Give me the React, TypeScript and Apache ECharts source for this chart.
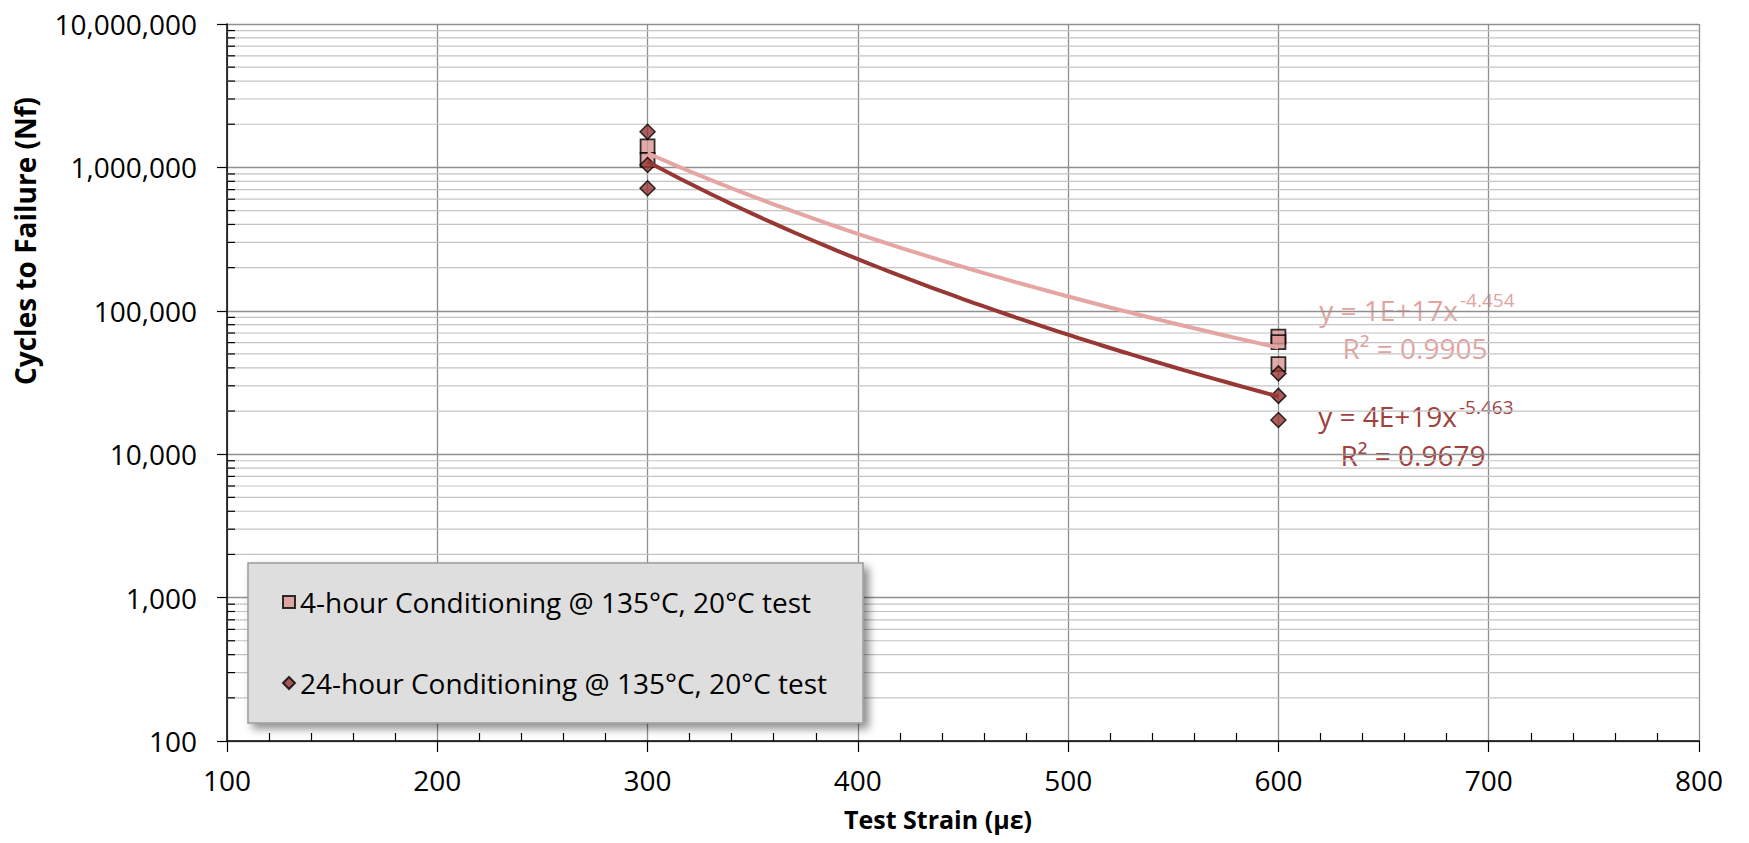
import React, { useEffect, useRef } from "react";
import * as echarts from "echarts";

// ---- data ----
const fourHourName = "4-hour Conditioning @ 135°C, 20°C test";
const twentyFourName = "24-hour Conditioning @ 135°C, 20°C test";

const fourHourStrain = [300, 300, 600, 600, 600];
const fourHourCycles = [1400000, 1130000, 66000, 60500, 42500];

const twentyFourStrain = [300, 300, 300, 600, 600, 600];
const twentyFourCycles = [1770000, 1040000, 715000, 36600, 25500, 17300];

const xTicks = [100, 200, 300, 400, 500, 600, 700, 800];
const yDecades = [100, 1000, 10000, 100000, 1000000, 10000000];
const yMinorMultipliers = [2, 3, 4, 5, 6, 7, 8, 9];

const fourHourEq = { main: "y = 1E+17x", exp: "-4.454", r2: "R² = 0.9905" };
const twentyFourEq = { main: "y = 4E+19x", exp: "-5.463", r2: "R² = 0.9679" };

// ---- helpers ----
function powerFit(xs: number[], ys: number[]) {
  const lx = xs.map(Math.log);
  const ly = ys.map(Math.log);
  const n = xs.length;
  const mx = lx.reduce((a, b) => a + b, 0) / n;
  const my = ly.reduce((a, b) => a + b, 0) / n;
  let sxy = 0, sxx = 0;
  for (let i = 0; i < n; i++) {
    sxy += (lx[i] - mx) * (ly[i] - my);
    sxx += (lx[i] - mx) * (lx[i] - mx);
  }
  const b = sxy / sxx;
  const a = Math.exp(my - b * mx);
  return { a, b };
}

function trendPoints(xs: number[], ys: number[]) {
  const { a, b } = powerFit(xs, ys);
  const lo = Math.min(...xs);
  const hi = Math.max(...xs);
  const pts: number[][] = [];
  const steps = 60;
  for (let i = 0; i <= steps; i++) {
    const x = lo + ((hi - lo) * i) / steps;
    pts.push([x, a * Math.pow(x, b)]);
  }
  return pts;
}

const FONT = '"Open Sans", "Liberation Sans", sans-serif';
const PINK_FILL = "#D99694";
const PINK_LINE = "#E4A5A3";
const PINK_TEXT = "#E2A3A1";
const DARK_FILL = "#953735";
const DARK_LINE = "#973835";
const DARK_TEXT = "#A0413E";

function txt(x: number, y: number, text: string, size: number, fill: string, align: string, bold = false) {
  return {
    type: "text",
    x,
    y,
    style: {
      text,
      font: `${bold ? "bold " : ""}${size}px ${FONT}`,
      fill,
      textAlign: align,
      align,
      textVerticalAlign: "middle",
      verticalAlign: "middle",
    },
  };
}

export default function App() {
  const ref = useRef<HTMLDivElement>(null);

  useEffect(() => {
    if (!ref.current) return;
    const chart = echarts.init(ref.current, undefined, { renderer: "svg" });

    const minorValues: number[][] = [];
    for (let i = 0; i < yDecades.length - 1; i++) {
      for (const m of yMinorMultipliers) minorValues.push([xTicks[0], yDecades[i] * m]);
    }
    const xMin = xTicks[0];
    const xMax = xTicks[xTicks.length - 1];

    const option: any = {
      animation: false,
      backgroundColor: "#ffffff",
      grid: { left: 227, right: 50, top: 24, bottom: 102, containLabel: false },
      xAxis: {
        type: "value",
        min: xMin,
        max: xMax,
        interval: 100,
        axisLine: { show: true, onZero: false, lineStyle: { color: "#000", width: 1.5 } },
        axisTick: { show: true, length: 11, lineStyle: { color: "#000", width: 1.2 } },
        minorTick: { show: true, splitNumber: 5, length: -8, lineStyle: { color: "#000", width: 1.2 } },
        axisLabel: { color: "#000", fontSize: 28, fontFamily: FONT, margin: 25 },
        splitLine: { show: true, lineStyle: { color: "#8f8f8f", width: 1.3 } },
      },
      yAxis: {
        type: "log",
        logBase: 10,
        min: yDecades[0],
        max: yDecades[yDecades.length - 1],
        axisLine: { show: true, onZero: false, lineStyle: { color: "#000", width: 1.5 } },
        axisTick: { show: true, length: 10, lineStyle: { color: "#000", width: 1.2 } },
        axisLabel: {
          color: "#000",
          fontSize: 28,
          fontFamily: FONT,
          margin: 30,
          formatter: (v: number) => Math.round(v).toLocaleString("en-US"),
        },
        splitLine: { show: true, lineStyle: { color: "#8f8f8f", width: 1.3 } },
      },
      legend: {
        data: [
          { name: fourHourName, icon: "rect" },
          { name: twentyFourName, icon: "diamond" },
        ],
        orient: "vertical",
        left: 248,
        top: 563,
        backgroundColor: "#DEDEDE",
        borderColor: "#9c9c9c",
        borderWidth: 1.5,
        shadowBlur: 8,
        shadowOffsetX: 5,
        shadowOffsetY: 5,
        shadowColor: "rgba(0,0,0,0.45)",
        padding: [22, 36, 23, 34],
        itemGap: 47,
        itemWidth: 12,
        itemHeight: 12,
        textStyle: { color: "#000", fontSize: 28, fontFamily: FONT, lineHeight: 34 },
      },
      graphic: [
        {
          type: "text",
          x: 25,
          y: 241,
          rotation: Math.PI / 2,
          style: {
            text: "Cycles to Failure (Nf)",
            font: `bold 28px ${FONT}`,
            fill: "#000",
            textAlign: "center",
            textVerticalAlign: "middle",
            align: "center",
            verticalAlign: "middle",
          },
        },
        txt(938, 819, "Test Strain (με)", 25, "#000", "center", true),
        // 4-hour equation
        txt(1458, 310, fourHourEq.main, 28, PINK_TEXT, "right"),
        txt(1460, 300, fourHourEq.exp, 19, PINK_TEXT, "left"),
        txt(1415, 348, fourHourEq.r2, 28, PINK_TEXT, "center"),
        // 24-hour equation
        txt(1457, 416, twentyFourEq.main, 28, DARK_TEXT, "right"),
        txt(1459, 407, twentyFourEq.exp, 19, DARK_TEXT, "left"),
        txt(1413, 455, twentyFourEq.r2, 28, DARK_TEXT, "center"),
      ],
      series: [
        {
          type: "custom",
          name: "minorGrid",
          silent: true,
          z: 1,
          data: minorValues,
          renderItem: (params: any, api: any) => {
            const v = api.value(1);
            const p1 = api.coord([xMin, v]);
            const p2 = api.coord([xMax, v]);
            return {
              type: "group",
              children: [
                {
                  type: "line",
                  shape: { x1: p1[0], y1: p1[1], x2: p2[0], y2: p2[1] },
                  style: { stroke: "#c4c4c4", lineWidth: 1.2 },
                },
                {
                  type: "line",
                  shape: { x1: p1[0], y1: p1[1], x2: p1[0] + 8, y2: p1[1] },
                  style: { stroke: "#000", lineWidth: 1.2 },
                },
              ],
            };
          },
        },
        {
          type: "scatter",
          name: fourHourName,
          symbol: "rect",
          symbolSize: 14,
          z: 3,
          itemStyle: { color: PINK_FILL, borderColor: "#000", borderWidth: 1.8 },
          data: fourHourStrain.map((x, i) => [x, fourHourCycles[i]]),
        },
        {
          type: "scatter",
          name: twentyFourName,
          symbol: "diamond",
          symbolSize: 15,
          z: 4,
          itemStyle: { color: DARK_FILL, borderColor: "#000", borderWidth: 1.5 },
          data: twentyFourStrain.map((x, i) => [x, twentyFourCycles[i]]),
        },
        {
          type: "line",
          name: "4-hour trend",
          showSymbol: false,
          silent: true,
          z: 5,
          lineStyle: { color: PINK_LINE, width: 4 },
          data: trendPoints(fourHourStrain, fourHourCycles),
        },
        {
          type: "line",
          name: "24-hour trend",
          showSymbol: false,
          silent: true,
          z: 6,
          lineStyle: { color: DARK_LINE, width: 4 },
          data: trendPoints(twentyFourStrain, twentyFourCycles),
        },
      ],
    };

    chart.setOption(option);
    return () => chart.dispose();
  }, []);

  return (
    <div
      ref={ref}
      style={{ position: "fixed", left: 0, top: 0, width: 1749, height: 843 }}
    />
  );
}
